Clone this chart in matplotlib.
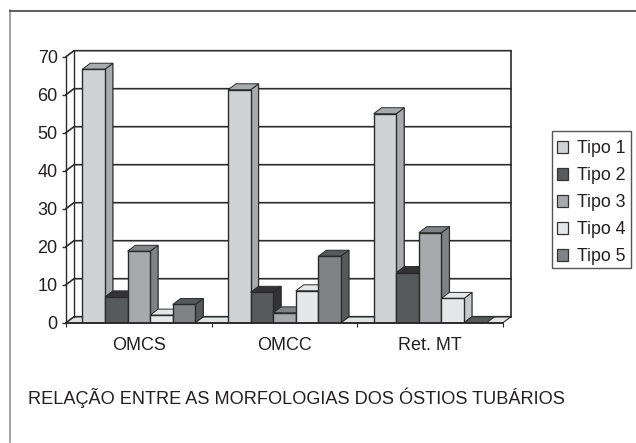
import matplotlib
matplotlib.use("Agg")
import matplotlib.pyplot as plt
from matplotlib.lines import Line2D
from matplotlib.patches import Patch, Rectangle

plt.rcParams['font.family'] = ['Liberation Sans', 'DejaVu Sans']

categories = ['OMCS', 'OMCC', 'Ret. MT']
tipos = ['Tipo 1', 'Tipo 2', 'Tipo 3', 'Tipo 4', 'Tipo 5']
tipo1 = [66.7, 61.3, 55.0]
tipo2 = [6.8, 8.0, 13.2]
tipo3 = [18.8, 2.6, 23.7]
tipo4 = [2.0, 8.4, 6.4]
tipo5 = [4.8, 17.5, 0.0]
series = [tipo1, tipo2, tipo3, tipo4, tipo5]
yticks = [0, 10, 20, 30, 40, 50, 60, 70]

# front, side, top
colors = [('#d1d2d4', '#a9aaad', '#a9aaad'),
          ('#58595b', '#333335', '#333335'),
          ('#a7a9ac', '#808285', '#808285'),
          ('#e6e7e8', '#c7c8ca', '#e6e7e8'),
          ('#808285', '#58595b', '#58595b')]
edge = '#2b2b2b'

W, H = 636, 443
fig = plt.figure(figsize=(W / 100, H / 100), dpi=100)

# axes box in pixels: front origin at (66, 322.7), back corner at (511, 50.7)
x0, x1, y0, y1 = 66, 511, 322.7, 50.7
ax = fig.add_axes([x0 / W, 1 - y0 / H, (x1 - x0) / W, (y0 - y1) / H])
dx = 8 / 145.67     # depth in x units
dy = 6 / 3.81       # depth in y units
ax.set_xlim(0, 3 + dx)
ax.set_ylim(0, 70 + dy)
ax.patch.set_visible(False)

# floor and walls
ax.fill([0, 3, 3 + dx, dx], [0, 0, dy, dy], color='#e2e3e4', lw=0, zorder=1)
for v in yticks:
    ax.plot([0, dx, 3 + dx], [v, v + dy, v + dy], color=edge, lw=1.2, zorder=1.5,
            clip_on=False, solid_joinstyle='miter')
ax.plot([dx, dx], [dy, 70 + dy], color=edge, lw=1.0, zorder=1.5)
ax.plot([3 + dx, 3 + dx], [dy, 70 + dy], color=edge, lw=1.2, zorder=1.5, clip_on=False)
ax.plot([3, 3 + dx], [0, dy], color=edge, lw=0.8, zorder=1.5)

# bars
bw = 22.6 / 145.67
start = 0.112
z = 2
for g in range(len(categories)):
    for s, vals in enumerate(series):
        v = vals[g]
        a = g + start + s * bw
        b = a + bw
        front, side, top = colors[s]
        if v > 0:
            ax.fill([a, b, b, a], [0, 0, v, v], fc=front, ec=edge, lw=1.0, zorder=z + 0.2,
                    joinstyle='miter')
            ax.fill([b, b + dx, b + dx, b], [0, dy, v + dy, v], fc=side, ec=edge, lw=0.9, zorder=z,
                    joinstyle='miter')
        ax.fill([a, b, b + dx, a + dx], [v, v, v + dy, v + dy], fc=top, ec=edge, lw=0.7, zorder=z + 0.1,
                joinstyle='miter')
        z += 1

# axes
for name in ['top', 'right']:
    ax.spines[name].set_visible(False)
ax.spines['left'].set_bounds(0, 70)
ax.spines['bottom'].set_bounds(0, 3)
ax.spines['left'].set_zorder(50)
ax.spines['bottom'].set_zorder(50)
ax.spines['left'].set_linewidth(1.0)
ax.spines['bottom'].set_linewidth(1.4)
ax.spines['left'].set_color(edge)
ax.spines['bottom'].set_color(edge)
ax.set_yticks(yticks)
ax.tick_params(axis='y', length=3, width=1.0, color=edge, labelsize=13, labelcolor='#231f20', pad=3)
ax.set_xticks([0, 1, 2, 3])
ax.set_xticklabels([])
ax.set_xticks([0.5, 1.5, 2.5], labels=categories, minor=True)
ax.tick_params(axis='x', which='major', length=3, width=0.8, color=edge)
ax.tick_params(axis='x', which='minor', length=0, labelsize=13, labelcolor='#231f20', pad=10)

# legend, frame drawn apart so its margins can differ
fig.add_artist(Rectangle((552 / W, 1 - 268 / H), 79 / W, 137 / H, fc='white', ec='#555555', lw=1.0,
                         transform=fig.transFigure))
handles = [Patch(fc=c[0], ec='#333333', lw=0.9) for c in colors]
leg = fig.legend(handles, tipos, loc='upper left', bbox_to_anchor=(551 / W, 1 - 134 / H),
                 borderaxespad=0, fontsize=12.8, labelcolor='#231f20', frameon=False,
                 handlelength=0.62, handleheight=0.62,
                 handletextpad=0.5, labelspacing=0.56, borderpad=0.36)

# caption and page rules
fig.text(28 / W, 1 - 398 / H, 'RELAÇÃO ENTRE AS MORFOLOGIAS DOS ÓSTIOS TUBÁRIOS',
         fontsize=13.05, color='#231f20', va='center', ha='left')
fig.add_artist(Line2D([10 / W, 10 / W], [1 - 10 / H, 1 - 442 / H], color='#8a8a8a', lw=1.1))
fig.add_artist(Line2D([10 / W, 1], [1 - 10.5 / H, 1 - 10.5 / H], color='#333333', lw=1.1))

fig.savefig('out.png', dpi=100)
